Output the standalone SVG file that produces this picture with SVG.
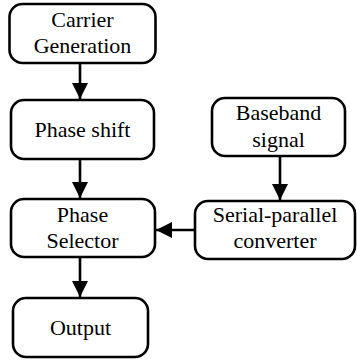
<svg xmlns="http://www.w3.org/2000/svg" width="357" height="364" viewBox="0 0 357 364">
<defs>
<style>
.box{fill:#fff;stroke:#000;stroke-width:2.6}
text{font-family:'Liberation Serif','Times New Roman',serif;font-size:22px;fill:#000;text-anchor:middle}
.c{stroke:#000;stroke-width:2.6;fill:none}
</style>
<marker id="ah" markerUnits="userSpaceOnUse" markerWidth="16" markerHeight="16" refX="14" refY="7" orient="auto" viewBox="0 0 14 14">
<path d="M0,0 L14,7 L0,14 Z" fill="#000"/>
</marker>
</defs>
<rect width="357" height="364" fill="#fff"/>
<g id="connectors">
<line class="c" x1="80" y1="63" x2="80" y2="99" marker-end="url(#ah)"/>
<line class="c" x1="80" y1="159" x2="80" y2="198" marker-end="url(#ah)"/>
<line class="c" x1="80" y1="257" x2="80" y2="297" marker-end="url(#ah)"/>
<line class="c" x1="280" y1="156" x2="280" y2="200" marker-end="url(#ah)"/>
<line class="c" x1="195" y1="230" x2="156" y2="230" marker-end="url(#ah)"/>
</g>
<g id="carrier">
<rect class="box" x="9.5" y="4" width="146" height="59" rx="13"/>
<text x="82.5" y="27">Carrier</text>
<text x="82.5" y="53">Generation</text>
</g>
<g id="phase-shift">
<rect class="box" x="11" y="100" width="143" height="59" rx="13"/>
<text x="82.5" y="137">Phase shift</text>
</g>
<g id="phase-selector">
<rect class="box" x="11" y="199" width="144" height="58" rx="13"/>
<text x="82.5" y="222">Phase</text>
<text x="82.5" y="248">Selector</text>
</g>
<g id="output">
<rect class="box" x="13" y="298" width="135" height="59" rx="13"/>
<text x="80.5" y="335">Output</text>
</g>
<g id="baseband">
<rect class="box" x="212" y="98" width="133" height="58" rx="13"/>
<text x="278.5" y="120">Baseband</text>
<text x="278.5" y="147">signal</text>
</g>
<g id="serial-parallel">
<rect class="box" x="195" y="201" width="160" height="58" rx="13"/>
<text x="275" y="222">Serial-parallel</text>
<text x="275" y="248">converter</text>
</g>
</svg>
